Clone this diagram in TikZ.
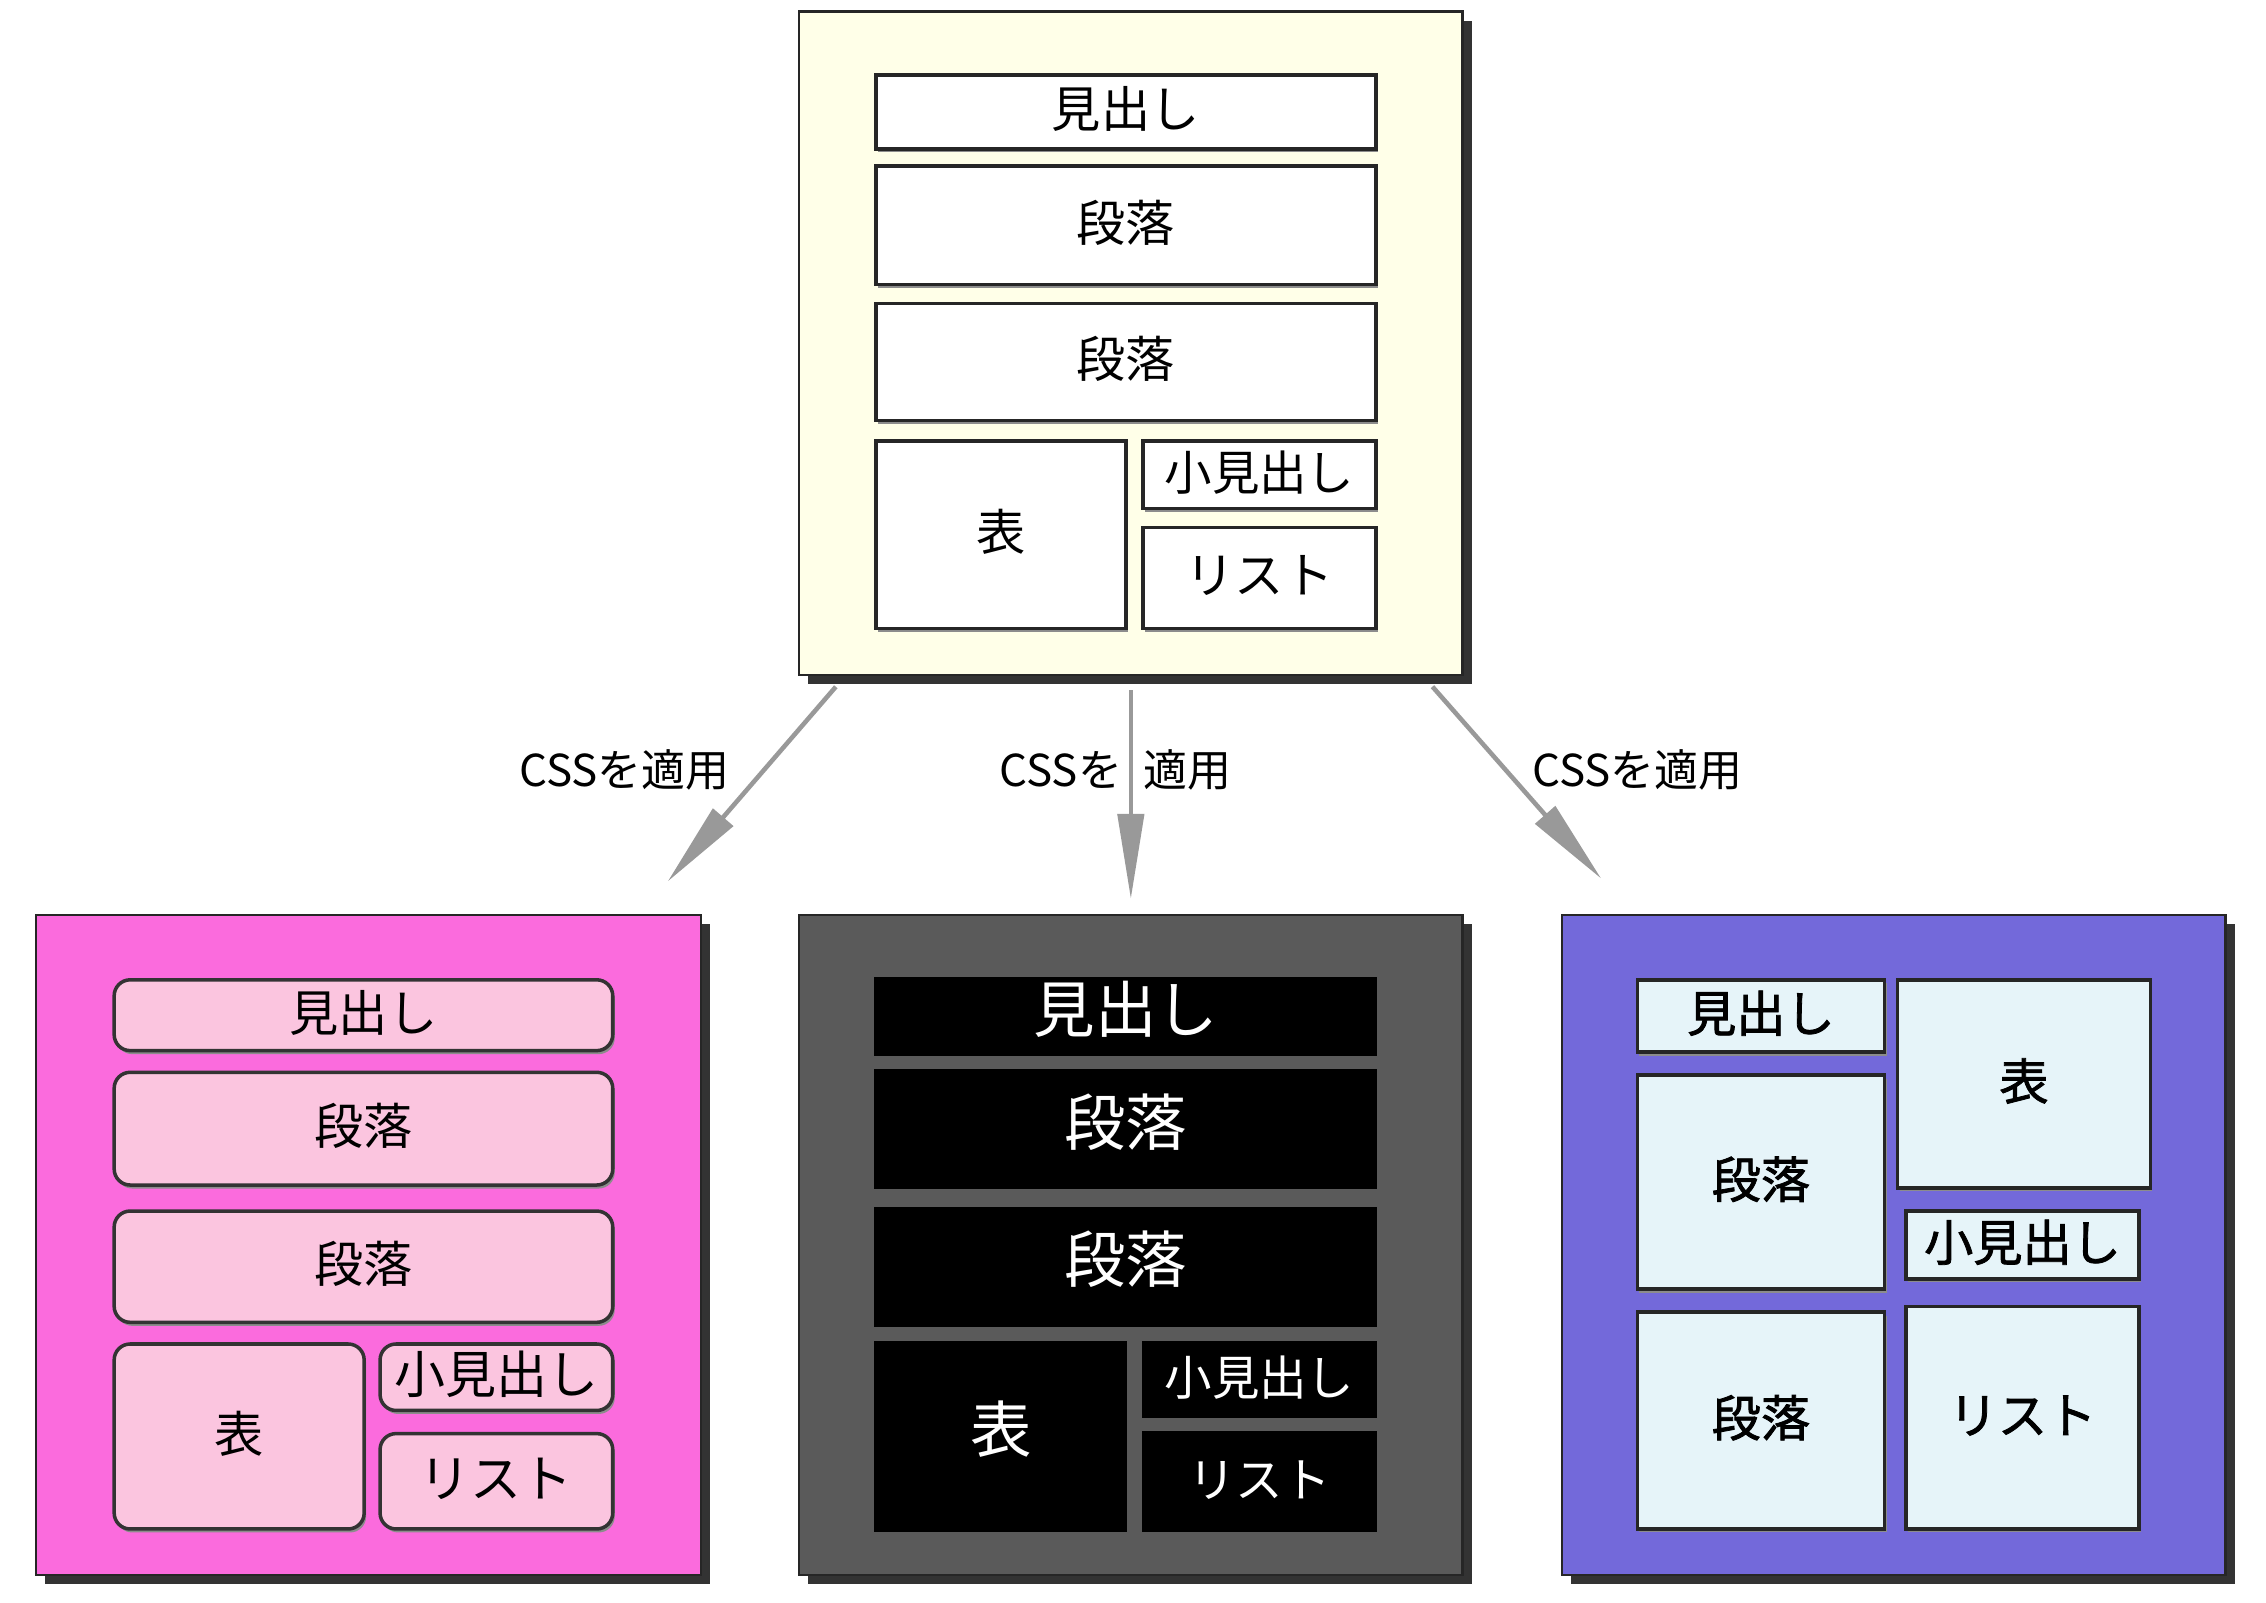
\documentclass[tikz,border=0pt]{standalone}
\usepackage{fontspec}
\setmainfont{Noto Sans CJK JP}
\newfontfamily\jpheavy{Noto Sans CJK JP}[FakeBold=1.6]
\usepackage{tikz}
\usetikzlibrary{fit,shadows,arrows.meta}

\definecolor{creambg}{HTML}{FFFFE8}
\definecolor{pinkbg}{HTML}{FB6BDD}
\definecolor{pinkin}{HTML}{FBC5DF}
\definecolor{darkbg}{HTML}{5A5A5A}
\definecolor{purplebg}{HTML}{7369DA}
\definecolor{bluein}{HTML}{E6F4F9}
\definecolor{arrowgray}{HTML}{999999}

\newcommand{\fs}[1]{\fontsize{#1}{#1}\selectfont}
\newcommand{\px}{0.14452mm}

\begin{document}
\begin{tikzpicture}[x=0.14452mm, y=-0.14452mm,
    panel/.style={draw=black!85, line width=0.7pt, inner sep=0pt,
        drop shadow={shadow xshift=0.9mm, shadow yshift=-0.9mm, fill=black!80, opacity=1}},
    softshadow/.style={drop shadow={shadow xshift=0.2mm, shadow yshift=-0.35mm, fill=black!45, opacity=1}},
    block/.style={inner sep=0pt, text height=0.93em, text depth=0.03em},
    plainbox/.style={block, draw=black!85, line width=1pt, fill=white, font=\fs{14}, softshadow},
    pinkbox/.style={block, draw=black!80, line width=1pt, fill=pinkin, rounded corners=1.6mm, font=\fs{14}, softshadow},
    blackbox/.style={block, fill=black, text=white, font=\fs{17.5}},
    bluebox/.style={block, draw=black!85, line width=1pt, fill=bluein, font=\jpheavy\fs{14}, softshadow},
    cssarrow/.style={draw=arrowgray, line width=1.3pt, shorten <=4pt,
        -{Triangle[length=8.5mm, width=2.6mm]}},
    csslabel/.style={font=\fs{12.5}, inner sep=0pt}]
    \useasboundingbox (0,0) rectangle (1568,1109);

    % Panels
    \node [panel, fill=creambg, fit={(553,8) (1012,467)}] (src) {};
    \node [panel, fill=pinkbg, fit={(25,633) (485,1090)}] (pink) {};
    \node [panel, fill=darkbg, fit={(553,633) (1012,1090)}] (dark) {};
    \node [panel, fill=purplebg, fit={(1081,633) (1540,1090)}] (purple) {};

    % Source document
    \node [plainbox, minimum width=346*\px, minimum height=51*\px] (srcHead) at (779,77.5) {見出し};
    \node [plainbox, minimum width=346*\px, minimum height=82*\px] (srcParaA) at (779,156) {段落};
    \node [plainbox, minimum width=346*\px, minimum height=81*\px] (srcParaB) at (779,250.5) {段落};
    \node [plainbox, minimum width=173*\px, minimum height=130*\px] (srcTable) at (692.5,370) {表};
    \node [plainbox, minimum width=161*\px, minimum height=47*\px, font=\fs{13.5}] (srcSub) at (871.5,328.5) {小見出し};
    \node [plainbox, minimum width=161*\px, minimum height=70*\px] (srcList) at (871.5,400) {リスト};

    % Pink style
    \node [pinkbox, minimum width=345*\px, minimum height=49*\px] (pinkHead) at (251.5,702.5) {見出し};
    \node [pinkbox, minimum width=345*\px, minimum height=78*\px] (pinkParaA) at (251.5,781) {段落};
    \node [pinkbox, minimum width=345*\px, minimum height=77*\px] (pinkParaB) at (251.5,876.5) {段落};
    \node [pinkbox, minimum width=173*\px, minimum height=128*\px] (pinkTable) at (165.5,994) {表};
    \node [pinkbox, minimum width=161*\px, minimum height=46*\px, font=\fs{14.5}] (pinkSub) at (343.5,953) {小見出し};
    \node [pinkbox, minimum width=161*\px, minimum height=66*\px, font=\fs{14.5}] (pinkList) at (343.5,1025) {リスト};

    % Dark style
    \node [blackbox, minimum width=348*\px, minimum height=55*\px] (darkHead) at (779,703.5) {見出し};
    \node [blackbox, minimum width=348*\px, minimum height=83*\px] (darkParaA) at (779,781.5) {段落};
    \node [blackbox, minimum width=348*\px, minimum height=83*\px] (darkParaB) at (779,876.5) {段落};
    \node [blackbox, minimum width=175*\px, minimum height=132*\px] (darkTable) at (692.5,994) {表};
    \node [blackbox, minimum width=163*\px, minimum height=53*\px, font=\fs{13.5}] (darkSub) at (871.5,954.5) {小見出し};
    \node [blackbox, minimum width=163*\px, minimum height=70*\px, font=\fs{13.5}] (darkList) at (871.5,1025) {リスト};

    % Purple style
    \node [bluebox, minimum width=171*\px, minimum height=50*\px] (blueHead) at (1218.5,703) {見出し};
    \node [bluebox, minimum width=171*\px, minimum height=148*\px] (blueParaA) at (1218.5,818) {段落};
    \node [bluebox, minimum width=171*\px, minimum height=150*\px] (blueParaB) at (1218.5,983) {段落};
    \node [bluebox, minimum width=175*\px, minimum height=144*\px] (blueTable) at (1400.5,750) {表};
    \node [bluebox, minimum width=161*\px, minimum height=47*\px] (blueSub) at (1399.5,861.5) {小見出し};
    \node [bluebox, minimum width=161*\px, minimum height=154*\px] (blueList) at (1399.5,981) {リスト};

    % Arrows
    \coordinate (tipL) at (462,610);
    \coordinate (tipM) at (782.5,622);
    \coordinate (tipR) at (1108,608);
    \draw [cssarrow] (src) -- (tipL);
    \draw [cssarrow] (src) -- (tipM);
    \draw [cssarrow] (src) -- (tipR);

    % Labels
    \node [csslabel] (applyL) at (432,533) {CSSを適用};
    \node [csslabel] (applyM) at (772,533) {CSSを\hspace{0.5em}適用};
    \node [csslabel] (applyR) at (1133,533) {CSSを適用};
\end{tikzpicture}
\end{document}
